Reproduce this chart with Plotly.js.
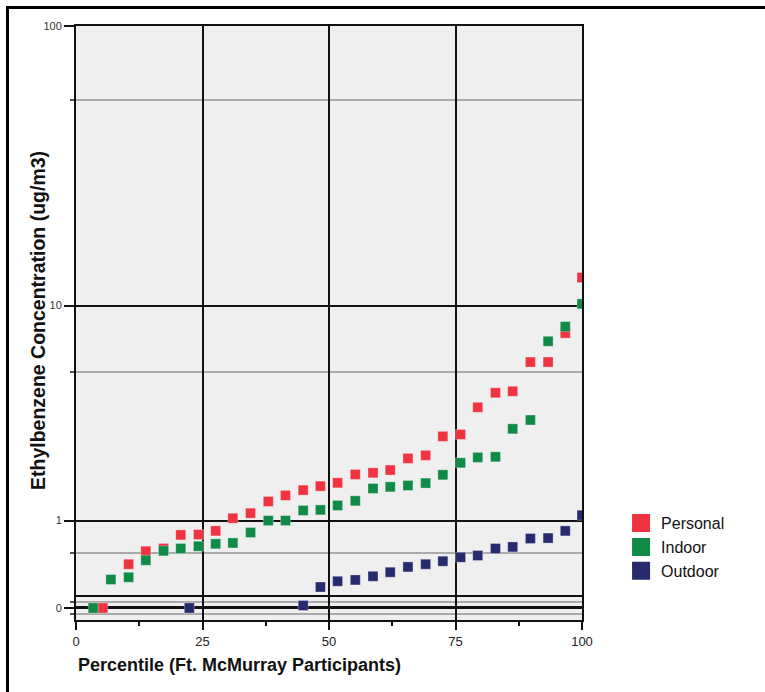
<!DOCTYPE html>
<html>
<head>
<meta charset="utf-8">
<script src="https://cdn.plot.ly/plotly-3.0.1.min.js"></script>
<style>
  html, body { margin: 0; padding: 0; background: #fff; }
  #wrap { position: relative; width: 765px; height: 692px; }
  #chart { position: absolute; left: 0; top: 0; width: 765px; height: 692px; }
  #frame { position: absolute; left: 6px; top: 6px; width: 770px; height: 700px;
           border-top: 3px solid #000; border-left: 3px solid #000; pointer-events: none; }
</style>
</head>
<body>
<div id="wrap"><div id="chart"></div><div id="frame"></div></div>
<script>
// ---- Data (percentile of participant, concentration ug/m3) ----
const personalPct = [5.3, 10.4, 13.8, 17.3, 20.7, 24.2, 27.6, 31.0, 34.5, 38.0, 41.4, 44.9, 48.3, 51.7,
  55.2, 58.7, 62.1, 65.6, 69.1, 72.5, 76.0, 79.4, 82.9, 86.3, 89.8, 93.3, 96.7, 100];
const personalVal = [0, 0.415, 0.569, 0.603, 0.785, 0.79, 0.843, 1.038, 1.121, 1.327, 1.442, 1.546, 1.628, 1.698,
  1.884, 1.921, 1.985, 2.275, 2.354, 2.90, 2.96, 3.91, 4.51, 4.575, 6.03, 6.03, 7.84, 12.74];

const indoorPct = [3.4, 6.9, 10.4, 13.8, 17.3, 20.7, 24.2, 27.6, 31.0, 34.5, 38.0, 41.4, 44.9, 48.3, 51.7,
  55.2, 58.7, 62.1, 65.6, 69.1, 72.5, 76.0, 79.4, 82.9, 86.3, 89.8, 93.3, 96.7, 100];
const indoorVal = [0, 0.253, 0.276, 0.46, 0.573, 0.603, 0.632, 0.663, 0.675, 0.82, 1.0, 1.0, 1.167, 1.177, 1.255,
  1.339, 1.58, 1.613, 1.642, 1.692, 1.875, 2.162, 2.301, 2.316, 3.14, 3.44, 7.29, 8.31, 10.15];

const outdoorPct = [22.4, 44.9, 48.3, 51.7, 55.2, 58.7, 62.1, 65.6, 69.1, 72.5, 76.0, 79.4, 82.9, 86.3,
  89.8, 93.3, 96.7, 100];
const outdoorVal = [0, 0.02, 0.181, 0.236, 0.249, 0.286, 0.328, 0.385, 0.415, 0.449, 0.495, 0.516, 0.603, 0.623,
  0.735, 0.741, 0.843, 1.087];

const seriesNames = ['Personal', 'Indoor', 'Outdoor'];
const seriesColors = ['#ef3340', '#0f8a47', '#272b6e'];

// axis ticks (in concentration units)
const yMajorVals = [0, 1, 10, 100];
const yMajorText = ['0', '1', '10', '100'];
const yMinorVals = [-0.05, 0.05, 0.55, 5.5, 55];
const yBreakVals = [0.1];
const yRangeVals = [-0.1, 100];
const xMajorVals = [0, 25, 50, 75, 100];
const xMinorVals = [12.5, 37.5, 62.5, 87.5];

// log(1+|y|) style scale with a zero band
const tf = v => Math.sign(v) * Math.log10(Math.abs(v) + 1);

const font = '"Liberation Sans", Arial, sans-serif';

const data = [
  [personalPct, personalVal], [indoorPct, indoorVal], [outdoorPct, outdoorVal]
].map((d, i) => ({
  type: 'scatter', mode: 'markers', name: seriesNames[i],
  x: d[0], y: d[1].map(tf),
  customdata: d[1],
  hovertemplate: '%{x}: %{customdata}<extra>' + seriesNames[i] + '</extra>',
  marker: { symbol: 'square', size: 10, color: seriesColors[i],
            line: { width: 0.6, color: 'rgba(255,255,255,0.5)' } },
  showlegend: false, cliponaxis: true
}));

// legend entries (bigger swatches)
seriesNames.forEach((n, i) => {
  data.push({
    type: 'scatter', mode: 'markers', name: n, x: [null], y: [null], yaxis: 'y2',
    legendgroup: 'g' + i,
    marker: { symbol: 'square', size: 16, color: seriesColors[i], line: { width: 2, color: seriesColors[i] } },
    showlegend: true, hoverinfo: 'skip'
  });
});

const yRange = yRangeVals.map(tf);

const layout = {
  width: 765, height: 692,
  margin: { l: 76, r: 183, t: 26, b: 72 },
  paper_bgcolor: '#ffffff',
  plot_bgcolor: '#efefef',
  font: { family: font, color: '#111' },
  showlegend: true,
  legend: {
    x: 1.0772, xanchor: 'left', y: 0.1916, yanchor: 'top',
    font: { family: font, size: 16, color: '#111' },
    traceorder: 'grouped', tracegroupgap: 0, itemwidth: 30,
    bgcolor: 'rgba(0,0,0,0)'
  },
  xaxis: {
    range: [0, 100], tickmode: 'array', tickvals: xMajorVals,
    ticktext: xMajorVals.map(String),
    ticks: 'outside', ticklen: 8, tickwidth: 1.5, tickcolor: '#111',
    tickfont: { size: 13, color: '#222', family: font },
    showgrid: true, gridcolor: '#111', gridwidth: 1.5,
    zeroline: false,
    showline: true, linecolor: '#111', linewidth: 2, mirror: true,
    minor: { tickmode: 'array', tickvals: xMinorVals, ticks: 'outside', ticklen: 4, tickwidth: 1.5,
             tickcolor: '#111', showgrid: false },
    fixedrange: true
  },
  yaxis: {
    range: yRange, tickmode: 'array', tickvals: yMajorVals.map(tf), ticktext: yMajorText,
    ticks: 'outside', ticklen: 10, tickwidth: 1.5, tickcolor: '#111',
    tickfont: { size: 11, color: '#333', family: font },
    showgrid: true, gridcolor: '#111', gridwidth: 1.5,
    zeroline: true, zerolinecolor: '#111', zerolinewidth: 2.5,
    showline: true, linecolor: '#111', linewidth: 2, mirror: true,
    minor: { tickmode: 'array', tickvals: yMinorVals.map(tf), ticks: 'outside', ticklen: 4, tickwidth: 1.5,
             tickcolor: '#555', showgrid: true, gridcolor: '#aaaaaa', gridwidth: 1.5 },
    fixedrange: true
  },
  yaxis2: {
    overlaying: 'y', anchor: 'x', side: 'left',
    range: yRange, tickmode: 'array', tickvals: yBreakVals.map(tf),
    showticklabels: false, ticks: '', showgrid: true, gridcolor: '#111', gridwidth: 1.5,
    zeroline: false, showline: false, fixedrange: true
  },
  annotations: [{
    xref: 'paper', yref: 'paper', x: 0, y: -0.076, xanchor: 'left', yanchor: 'middle',
    text: '<b>Percentile (Ft. McMurray Participants)</b>', showarrow: false,
    font: { size: 18, family: font, color: '#111' }
  }, {
    xref: 'paper', yref: 'paper', x: -0.0751, y: 0.505, xanchor: 'center', yanchor: 'middle',
    textangle: -90,
    text: '<b>Ethylbenzene Concentration (ug/m3)</b>', showarrow: false,
    font: { size: 19.5, family: font, color: '#111' }
  }]
};

Plotly.newPlot('chart', data, layout, { displayModeBar: false });
</script>
</body>
</html>
